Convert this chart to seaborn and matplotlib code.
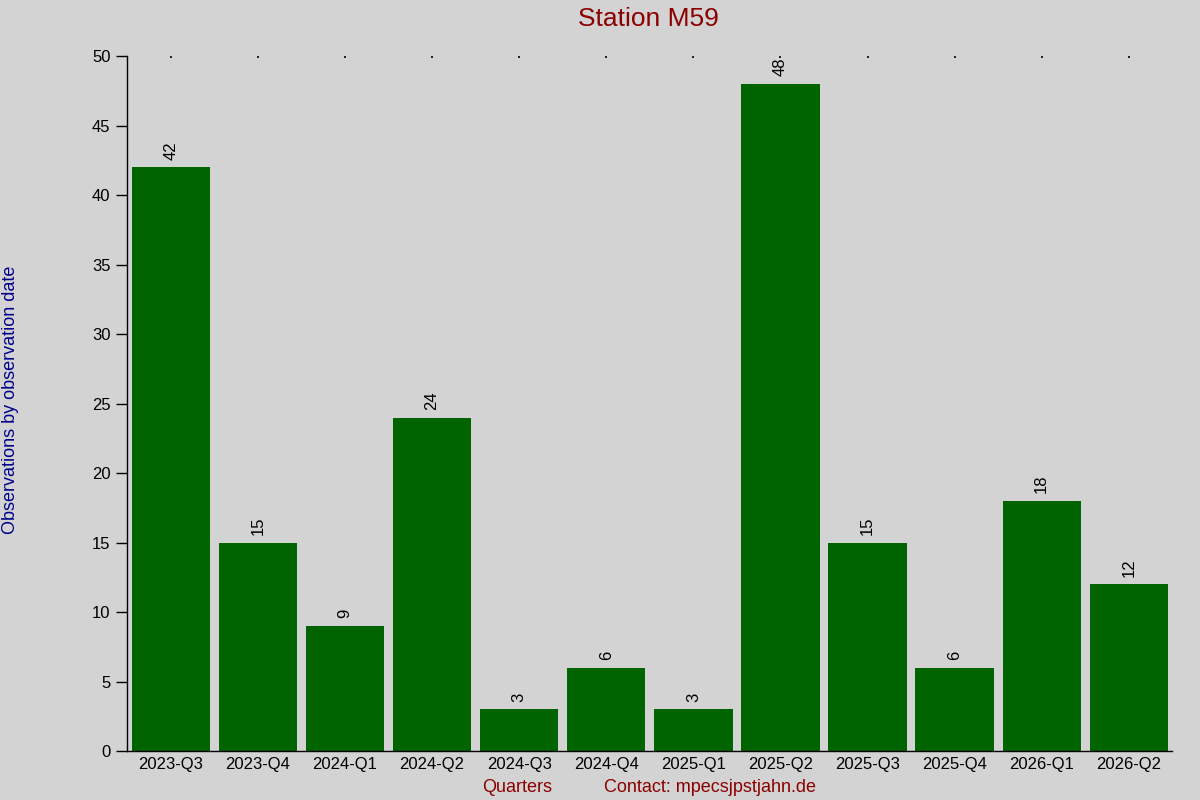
import matplotlib
matplotlib.use('Agg')
import matplotlib.pyplot as plt
import pandas as pd
import seaborn as sns

quarters = ['2023-Q3', '2023-Q4', '2024-Q1', '2024-Q2', '2024-Q3', '2024-Q4',
            '2025-Q1', '2025-Q2', '2025-Q3', '2025-Q4', '2026-Q1', '2026-Q2']
counts = [42, 15, 9, 24, 3, 6, 3, 48, 15, 6, 18, 12]

bg = '#d3d3d3'
sns.set_style('white')
plt.rcParams['font.family'] = ['Liberation Sans', 'DejaVu Sans']
plt.rcParams['text.color'] = 'black'
plt.rcParams['xtick.color'] = 'black'
plt.rcParams['ytick.color'] = 'black'

df = pd.DataFrame({'quarter': quarters, 'count': counts})

fig = plt.figure(figsize=(12, 8), dpi=100, facecolor=bg)
ax = fig.add_axes([0.106, 0.061, 0.871, 0.869])
ax.set_facecolor(bg)

sns.barplot(data=df, x='quarter', y='count', color='#006400', saturation=1,
            width=0.9, edgecolor='none', linewidth=0, ax=ax)

# value labels above the bars
for i, v in enumerate(counts):
    ax.text(i, v + 0.55, str(v), rotation=90, ha='center', va='bottom',
            fontsize=12, color='black')

ax.set_xlim(-0.5, len(quarters) - 0.5)
ax.set_ylim(0, 50)
ax.set_yticks(range(0, 51, 5))
ax.tick_params(axis='y', direction='out', length=8, width=1, labelsize=12,
               left=True, pad=4, colors='black')
ax.tick_params(axis='x', bottom=False, top=True, direction='in', length=1.2,
               width=1.2, labelsize=12, pad=4, colors='black')

for s in ['top', 'right']:
    ax.spines[s].set_visible(False)
for s in ['left', 'bottom']:
    ax.spines[s].set_color('black')
    ax.spines[s].set_linewidth(1)

ax.set_xlabel('')
ax.set_ylabel('')
fig.text(648 / 1200, 0.976, 'Station M59', ha='center', va='center',
         fontsize=19, color='#8b0000')
fig.text(0.009, 0.5, 'Observations by observation date', rotation=90,
         ha='center', va='center', fontsize=13, color='#00008b')
fig.text(517 / 1200, 1 - 787 / 800, 'Quarters', ha='center', va='center',
         fontsize=13, color='#8b0000')
fig.text(710 / 1200, 1 - 787 / 800, 'Contact: mpecsjpstjahn.de', ha='center',
         va='center', fontsize=13, color='#8b0000')

fig.savefig('out.png', dpi=100, facecolor=bg)
